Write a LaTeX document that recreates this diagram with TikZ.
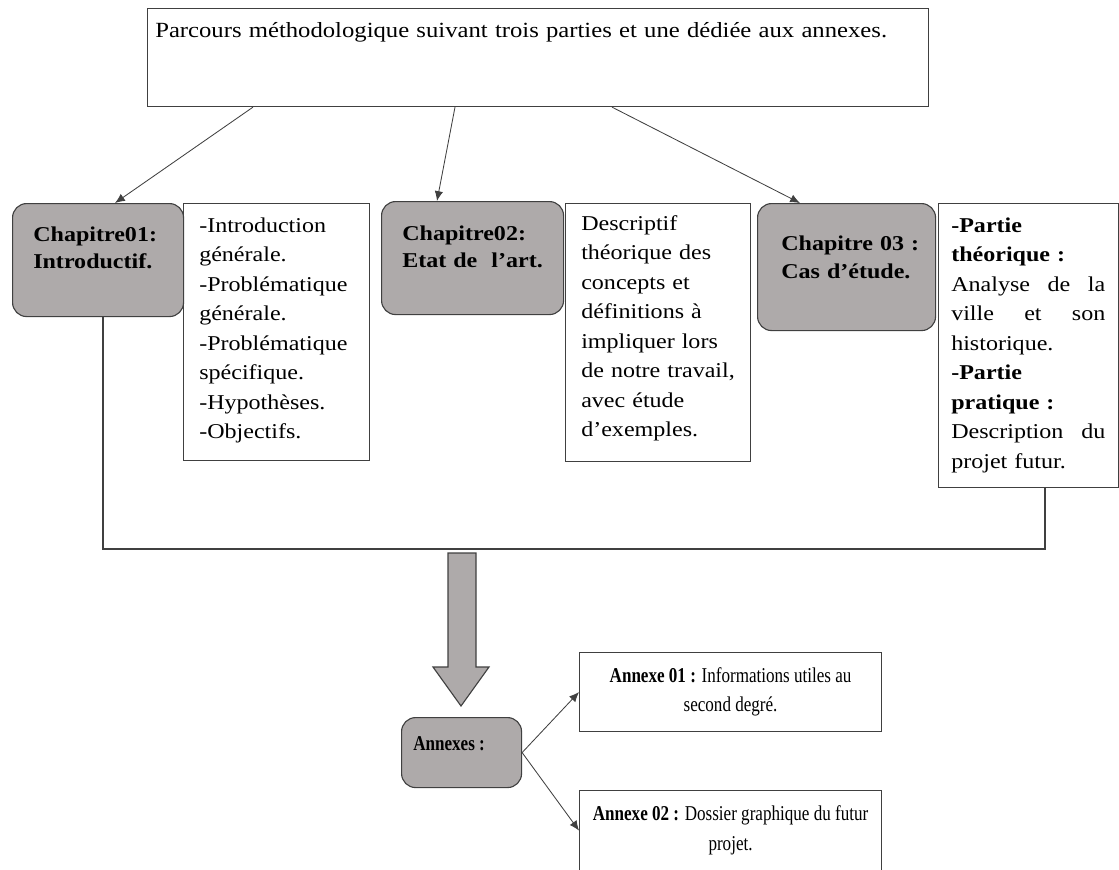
\documentclass[tikz,border=0pt]{standalone}
\usepackage{fontspec}
\setmainfont{Liberation Serif}[FakeStretch=1.14]
\usepackage{graphicx}
\usepackage{tikz}
\usetikzlibrary{arrows.meta,positioning}
\definecolor{gris}{HTML}{AEAAAA}
\definecolor{bord}{HTML}{404040}
\newcommand{\corps}{\fontsize{15}{21}\selectfont}
\newcommand{\serre}[1]{\scalebox{0.71}[1]{#1}}

\begin{document}
\begin{tikzpicture}[
		boite/.style={draw=bord, line width=0.8pt, anchor=north west, inner sep=0pt},
		grise/.style={boite, fill=gris, rounded corners=10pt},
		texte/.style={anchor=base west, inner sep=0pt, align=left, font=\corps},
		titre/.style={anchor=base west, inner sep=0pt, align=left, font=\bfseries\fontsize{15}{19.5}\selectfont},
		fleche/.style={draw=bord, line width=0.6pt, -{Latex[length=7pt,width=6pt]}},
		trait/.style={draw=bord, line width=0.8pt}]
		\useasboundingbox (0,0) rectangle (27.975,-21.725);
		% haut
		\node[boite, minimum width=19.525cm, minimum height=2.45cm] (parcours) at (3.675,-0.2) {};
		\node[texte, text width=19cm, font=\fontsize{15.4}{21}\selectfont] (tparcours) at ([shift={(0.2,-0.725)}]parcours.north west) {Parcours méthodologique suivant trois parties et une dédiée aux annexes.};
		% chapitres
		\node[grise, minimum width=4.275cm, minimum height=2.825cm] (chap1) at (0.3,-5.075) {};
		\node[titre, text width=4cm] (tchap1) at ([shift={(0.525,-0.95)}]chap1.north west) {Chapitre01:\\Introductif.};
		\node[boite, minimum width=4.65cm, minimum height=6.425cm] (box1) at (4.575,-5.075) {};
		\node[texte, text width=4cm] (tbox1) at ([shift={(0.4,-0.725)}]box1.north west) {-Introduction\\générale.\\-Problématique\\générale.\\-Problématique\\spécifique.\\-Hypothèses.\\-Objectifs.};
		\node[grise, minimum width=4.55cm, minimum height=2.825cm] (chap2) at (9.525,-5.025) {};
		\node[titre, text width=4cm] (tchap2) at ([shift={(0.525,-0.975)}]chap2.north west) {Chapitre02:\\Etat de~ l’art.};
		\node[boite, minimum width=4.625cm, minimum height=6.45cm] (box2) at (14.125,-5.075) {};
		\node[texte, text width=3.95cm] (tbox2) at ([shift={(0.4,-0.675)}]box2.north west) {Descriptif\\théorique des\\concepts et\\définitions à\\impliquer lors\\de notre travail,\\avec étude\\d’exemples.};
		\node[grise, minimum width=4.45cm, minimum height=3.175cm] (chap3) at (18.925,-5.075) {};
		\node[titre, text width=4cm, font=\bfseries\fontsize{15}{20.5}\selectfont] (tchap3) at ([shift={(0.6,-1.175)}]chap3.north west) {Chapitre 03 :\\Cas d’étude.};
		\node[boite, minimum width=4.5cm, minimum height=7.1cm] (box3) at (23.45,-5.075) {};
		\node[texte, text width=3.85cm] (tbox3) at ([shift={(0.325,-0.725)}]box3.north west) {\textbf{-Partie}\\\textbf{théorique :}\\\makebox[3.85cm]{Analyse\hfill de\hfill la}\\\makebox[3.85cm]{ville\hfill et\hfill son}\\historique.\\\textbf{-Partie}\\\textbf{pratique :}\\\makebox[3.85cm]{Description\hfill du}\\projet futur.};
		\draw[fleche] ([xshift=2.65cm]parcours.south west) -- ([xshift=2.575cm]chap1.north west);
		\draw[fleche] ([xshift=7.7cm]parcours.south west) -- ([xshift=1.4cm]chap2.north west);
		\draw[fleche] ([xshift=11.625cm]parcours.south west) -- ([xshift=1.075cm]chap3.north west);
		% accolade du bas
		\coordinate (bas) at (0,-13.725);
		\coordinate (g) at ([xshift=2.275cm]chap1.south west);
		\coordinate (d) at ([xshift=2.675cm]box3.south west);
		\draw[trait] (g) -- (g |- bas) -- (d |- bas) -- (d);
		\draw[draw=bord, fill=gris, line width=0.8pt] (11.2,-13.825) -- (11.9,-13.825) -- (11.9,-16.675) -- (12.225,-16.675) -- (11.525,-17.65) -- (10.825,-16.675) -- (11.2,-16.675) -- cycle;
		% annexes
		\node[grise, minimum width=3cm, minimum height=1.75cm] (annexes) at (10.025,-17.925) {};
		\node[titre] (tannexes) at ([shift={(0.3,-0.825)}]annexes.north west) {\serre{Annexes :}};
		\node[boite, minimum width=7.55cm, minimum height=1.975cm, align=center, font=\corps] (an1) at (14.475,-16.3) {\serre{\textbf{Annexe 01 :} Informations utiles au}\\\serre{second degré.}};
		\node[boite, minimum width=7.55cm, minimum height=2cm, align=center, font=\corps] (an2) at (14.475,-19.75) {\serre{\textbf{Annexe 02 :} Dossier graphique du futur}\\\serre{projet.}};
		\draw[fleche] (annexes.east) -- (an1.west);
		\draw[fleche] (annexes.east) -- (an2.west);
	\end{tikzpicture}
\end{document}
